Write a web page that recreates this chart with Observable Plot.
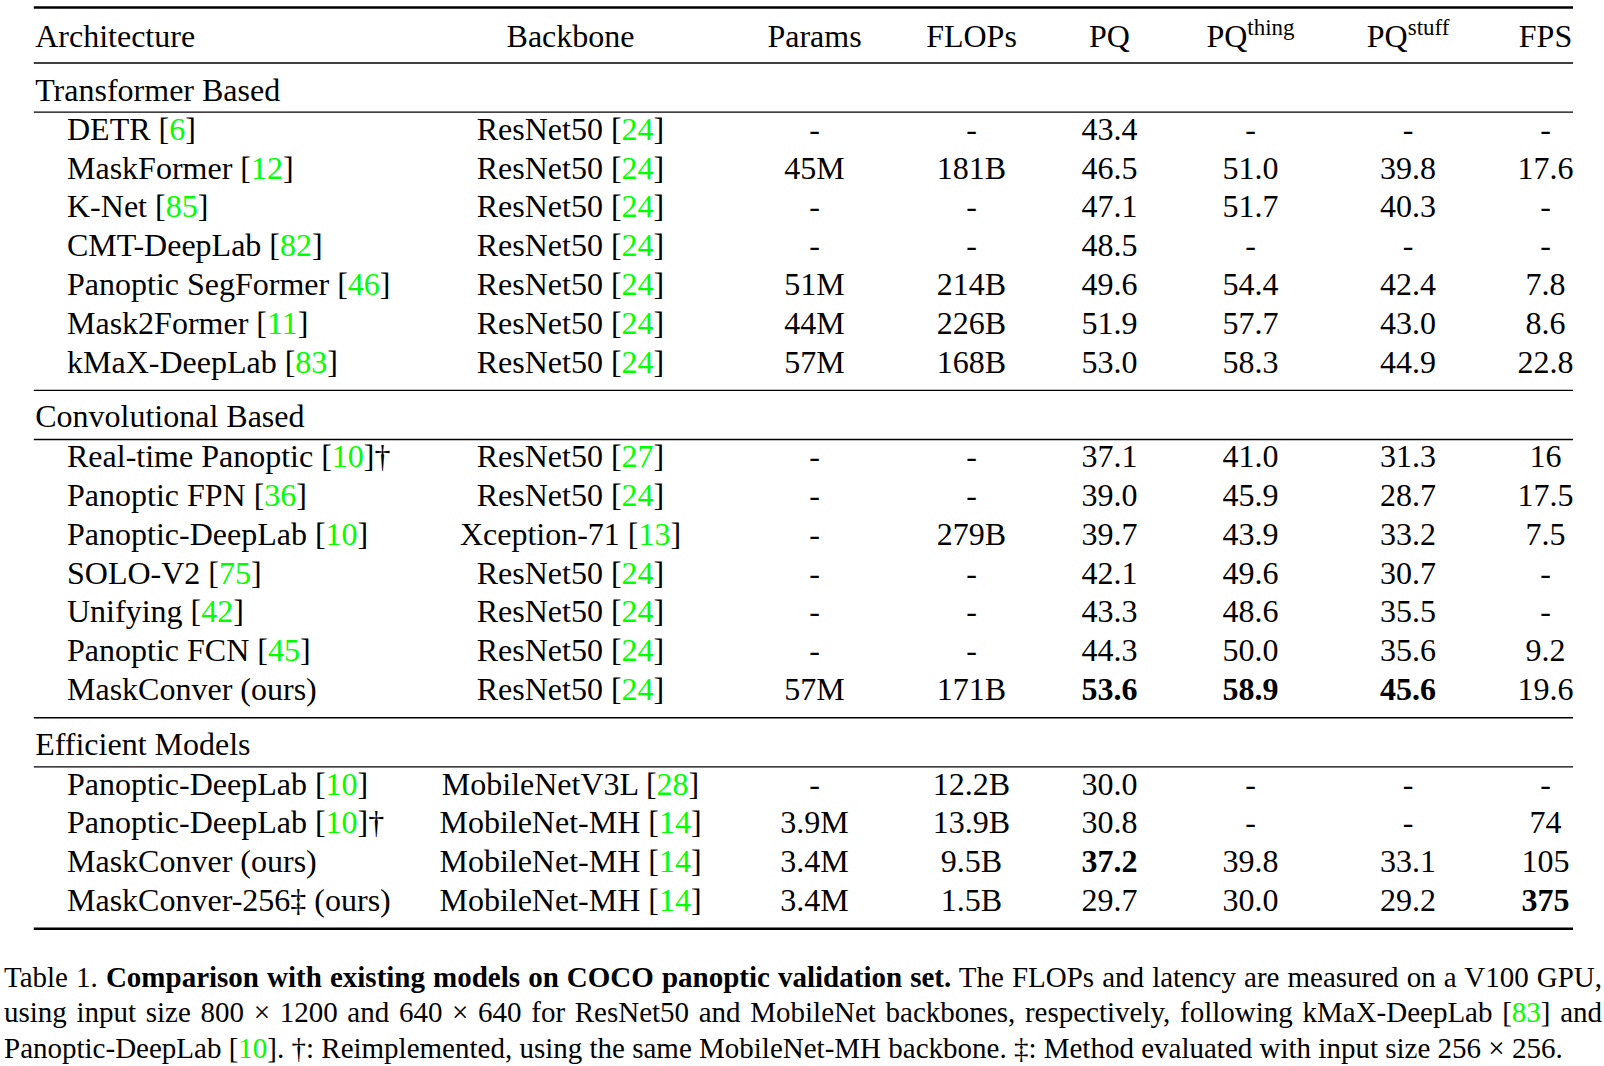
<!DOCTYPE html>
<html><head><meta charset="utf-8">
<script src="https://cdn.jsdelivr.net/npm/d3@7"></script>
<script src="https://cdn.jsdelivr.net/npm/@observablehq/plot@0.6"></script>
<style>
html,body{margin:0;padding:0;background:#fff;}
#wrap{position:relative;width:1604px;height:1066px;overflow:hidden;background:#fff;}
#chart{position:absolute;left:0;top:0;}
#caption{position:absolute;left:4px;top:960px;width:1598px;font-family:"Liberation Serif","Times New Roman",serif;font-size:29px;line-height:35.3px;color:#000;}
#caption .j{text-align:justify;text-align-last:justify;white-space:nowrap;}
#caption .l{text-align:left;white-space:nowrap;}
#caption .g{color:#00ff00;}
</style></head><body>
<div id="wrap"><div id="chart"></div><div id="caption"></div></div>
<script>
// ---------------- data ----------------
const groups = ["Transformer Based", "Convolutional Based", "Efficient Models"];
const groupOf = [0,0,0,0,0,0,0, 1,1,1,1,1,1,1, 2,2,2,2];
const architectures = [
  "DETR [6]", "MaskFormer [12]", "K-Net [85]", "CMT-DeepLab [82]", "Panoptic SegFormer [46]", "Mask2Former [11]", "kMaX-DeepLab [83]",
  "Real-time Panoptic [10]†", "Panoptic FPN [36]", "Panoptic-DeepLab [10]", "SOLO-V2 [75]", "Unifying [42]", "Panoptic FCN [45]", "MaskConver (ours)",
  "Panoptic-DeepLab [10]", "Panoptic-DeepLab [10]†", "MaskConver (ours)", "MaskConver-256‡ (ours)"
];
const backbones = [
  "ResNet50 [24]", "ResNet50 [24]", "ResNet50 [24]", "ResNet50 [24]", "ResNet50 [24]", "ResNet50 [24]", "ResNet50 [24]",
  "ResNet50 [27]", "ResNet50 [24]", "Xception-71 [13]", "ResNet50 [24]", "ResNet50 [24]", "ResNet50 [24]", "ResNet50 [24]",
  "MobileNetV3L [28]", "MobileNet-MH [14]", "MobileNet-MH [14]", "MobileNet-MH [14]"
];
const paramsM = [null,45,null,null,51,44,57, null,null,null,null,null,null,57, null,3.9,3.4,3.4];
const flopsB  = [null,181,null,null,214,226,168, null,null,279,null,null,null,171, 12.2,13.9,9.5,1.5];
const pq      = [43.4,46.5,47.1,48.5,49.6,51.9,53.0, 37.1,39.0,39.7,42.1,43.3,44.3,53.6, 30.0,30.8,37.2,29.7];
const pqThing = [null,51.0,51.7,null,54.4,57.7,58.3, 41.0,45.9,43.9,49.6,48.6,50.0,58.9, null,null,39.8,30.0];
const pqStuff = [null,39.8,40.3,null,42.4,43.0,44.9, 31.3,28.7,33.2,30.7,35.5,35.6,45.6, null,null,33.1,29.2];
const fps     = [null,17.6,null,null,7.8,8.6,22.8, 16,17.5,7.5,null,null,9.2,19.6, null,74,105,375];
const columns = ["Architecture","Backbone","Params","FLOPs","PQ","PQ^thing","PQ^stuff","FPS"];
const bestCells = [[13,"PQ"],[13,"PQ^thing"],[13,"PQ^stuff"],[16,"PQ"],[17,"FPS"]];

// ---------------- layout ----------------
const W = 1604, H = 940, PITCH = 38.8;
const colX = {Architecture: 66.5, Backbone: 570, Params: 814, FLOPs: 971, PQ: 1109, "PQ^thing": 1250, "PQ^stuff": 1407.6, FPS: 1545};
const headerX = {...colX, Architecture: 34.7};
const leftX = 34.7, ruleX1 = 33.8, ruleX2 = 1573;
const u = px => px / PITCH;

let cur = u(7);
const rules = [{y: cur, thick: true}];
const headerY = cur + u(29);
cur = headerY + u(26.5);
rules.push({y: cur, thick: false});
const rowY = [], labelY = [];
groups.forEach((g, gi) => {
  const lab = cur + u(gi === 0 ? 28 : 26.8);
  labelY.push(lab);
  cur = lab + u(gi === 0 ? 21.1 : 22.3);
  rules.push({y: cur, thick: false});
  const idx = groupOf.map((v, i) => v === gi ? i : -1).filter(i => i >= 0);
  const first = cur + u(17.5);
  idx.forEach((r, k) => rowY[r] = first + k);
  cur = rowY[idx[idx.length - 1]] + u(28);
  rules.push({y: cur, thick: gi === groups.length - 1});
});

// ---------------- table cells ----------------
const f1 = v => v == null ? "-" : v.toFixed(1);
const cells = [];
architectures.forEach((a, i) => {
  const vals = {
    Architecture: a,
    Backbone: backbones[i],
    Params: paramsM[i] == null ? "-" : paramsM[i] + "M",
    FLOPs: flopsB[i] == null ? "-" : flopsB[i] + "B",
    PQ: f1(pq[i]),
    "PQ^thing": f1(pqThing[i]),
    "PQ^stuff": f1(pqStuff[i]),
    FPS: fps[i] == null ? "-" : String(fps[i])
  };
  for (const c of columns) {
    cells.push({row: i, col: c, text: vals[c], x: colX[c], y: rowY[i],
      bold: bestCells.some(([r, cc]) => r === i && cc === c)});
  }
});
const headerCells = columns.map(c => ({col: c, text: c, x: headerX[c], y: headerY}));

const font = {fontFamily: '"Liberation Serif","Times New Roman",serif', fontSize: 32, fill: "#000"};

const svg = Plot.plot({
  width: W, height: H,
  margin: 0,
  x: {domain: [0, W], range: [0, W], axis: null},
  y: {domain: [0, H / PITCH], range: [0, H], axis: null},
  style: {background: "#fff"},
  marks: [
    Plot.ruleY(rules.filter(d => d.thick), {y: "y", x1: ruleX1, x2: ruleX2, stroke: "#000", strokeWidth: 2.6}),
    Plot.ruleY(rules.filter(d => !d.thick), {y: "y", x1: ruleX1, x2: ruleX2, stroke: "#000", strokeWidth: 1.4}),
    Plot.text(headerCells.filter(d => d.col === "Architecture"), {x: "x", y: "y", text: "text", textAnchor: "start", ...font}),
    Plot.text(headerCells.filter(d => d.col !== "Architecture"), {x: "x", y: "y", text: "text", textAnchor: "middle", ...font}),
    Plot.text(groups, {x: () => leftX, y: (d, i) => labelY[i], text: d => d, textAnchor: "start", ...font}),
    Plot.text(cells.filter(d => d.col === "Architecture"), {x: "x", y: "y", text: "text", textAnchor: "start", ...font}),
    Plot.text(cells.filter(d => d.col !== "Architecture" && !d.bold), {x: "x", y: "y", text: "text", textAnchor: "middle", ...font}),
    Plot.text(cells.filter(d => d.col !== "Architecture" && d.bold), {x: "x", y: "y", text: "text", textAnchor: "middle", fontWeight: "bold", ...font})
  ]
});

// style citations (green numbers) and superscripts
const NS = "http://www.w3.org/2000/svg";
svg.querySelectorAll("text").forEach(t => {
  if (t.querySelector("tspan")) return;
  const s = t.textContent;
  if (!/\[\d+\]|\^\w+/.test(s)) return;
  while (t.firstChild) t.removeChild(t.firstChild);
  const re = /\[(\d+)\]|\^(\w+)/g;
  let last = 0, m;
  const add = (txt, attrs) => {
    const ts = document.createElementNS(NS, "tspan");
    ts.textContent = txt;
    if (attrs) for (const k in attrs) ts.setAttribute(k, attrs[k]);
    t.appendChild(ts);
  };
  while ((m = re.exec(s))) {
    if (m.index > last) add(s.slice(last, m.index));
    if (m[1] != null) {
      add("[");
      add(m[1], {fill: "#00ff00"});
      add("]");
    } else {
      add(m[2], {"font-size": "23", dy: "-12"});
    }
    last = re.lastIndex;
  }
  if (last < s.length) add(s.slice(last));
});
document.getElementById("chart").appendChild(svg);

// caption
document.getElementById("caption").innerHTML =
  '<div class="j">Table 1. <b>Comparison with existing models on COCO panoptic validation set.</b> The FLOPs and latency are measured on a V100 GPU,</div>' +
  '<div class="j">using input size 800 × 1200 and 640 × 640 for ResNet50 and MobileNet backbones, respectively, following kMaX-DeepLab [<span class="g">83</span>] and</div>' +
  '<div class="l">Panoptic-DeepLab [<span class="g">10</span>]. †: Reimplemented, using the same MobileNet-MH backbone. ‡: Method evaluated with input size 256 × 256.</div>';
</script>
</body></html>
